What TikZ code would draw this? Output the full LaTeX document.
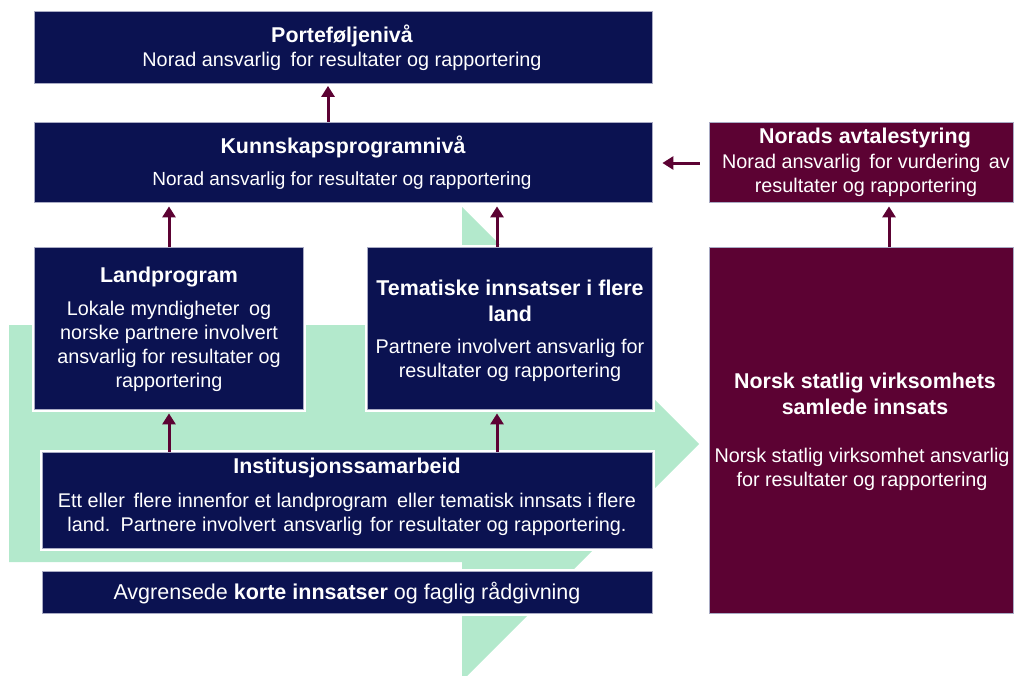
\documentclass[tikz,border=0pt]{standalone}
\usepackage{fontspec}
\setmainfont{Liberation Sans}
\usetikzlibrary{arrows.meta}
\definecolor{navy}{HTML}{0B1251}
\definecolor{plum}{HTML}{5C0233}
\definecolor{mint}{HTML}{B3E9CC}
\definecolor{edgec}{HTML}{A9ABC4}
\begin{document}
\begin{tikzpicture}[x=1pt,y=-1pt,
  box/.style={fill=navy, draw=edgec, line width=0.8pt,
    preaction={draw=white, line width=5pt}, inner sep=0pt},
  pbox/.style={box, fill=plum},
  ttl/.style={text=white, align=center, inner sep=0pt,
    font=\bfseries\fontsize{21.4}{26}\selectfont},
  txt/.style={text=white, align=center, inner sep=0pt,
    font=\fontsize{19.8}{24}\selectfont},
  small/.style={txt, font=\fontsize{19}{24}\selectfont},
  big/.style={txt, font=\fontsize{21.5}{26}\selectfont},
  arr/.style={draw=plum, line width=3pt, -{Triangle[width=13pt,length=11pt]}}]
\useasboundingbox (0,0) rectangle (1014,675);
\clip (0,0) rectangle (1014,675);
% green background arrow
\fill[mint] (9,325) -- (462,325) -- (462,207) -- (699,444) -- (462,681)
  -- (462,562) -- (9,562) -- cycle;
% boxes
\node[box, minimum width=618pt, minimum height=72pt] (port) at (343,47) {};
\node[box, minimum width=618pt, minimum height=80pt] (kunn) at (343,162) {};
\node[pbox, minimum width=304pt, minimum height=80pt] (avt) at (861,162) {};
\node[box, minimum width=269pt, minimum height=162pt] (land) at (168.5,328) {};
\node[box, minimum width=285pt, minimum height=162pt] (tema) at (509.5,328) {};
\node[box, minimum width=610pt, minimum height=96pt] (inst) at (347,500) {};
\node[box, minimum width=610pt, minimum height=42pt] (kort) at (347,592) {};
\node[pbox, minimum width=304pt, minimum height=366pt] (norsk) at (861,430) {};
% texts
\node[ttl] (portT) at (342,36) {Porteføljenivå};
\node[txt] (portB) at (342,61) {Norad ansvarlig\hspace{4pt} for resultater og rapportering};
\node[ttl] (kunnT) at (343,147) {Kunnskapsprogramnivå};
\node[small] (kunnB) at (342,181) {Norad ansvarlig for resultater og rapportering};
\node[ttl] (avtT) at (865,138) {Norads avtalestyring};
\node[txt] (avtB) at (866,175) {Norad ansvarlig\hspace{3pt} for vurdering\hspace{3pt} av\\resultater og rapportering};
\node[ttl] (landT) at (169,277) {Landprogram};
\node[txt] (landB) at (169,346.5) {Lokale myndigheter\hspace{4pt} og\\norske partnere involvert\\ansvarlig for resultater og\\rapportering};
\node[ttl] (temaT) at (510,301) {Tematiske innsatser i flere\\land};
\node[txt] (temaB) at (510,360) {Partnere involvert ansvarlig for\\resultater og rapportering};
\node[ttl] (norskT) at (865,394) {Norsk statlig virksomhets\\samlede innsats};
\node[txt] (norskB) at (862,469) {Norsk statlig virksomhet ansvarlig\\for resultater og rapportering};
\node[ttl] (instT) at (347,468) {Institusjonssamarbeid};
\node[txt] (instB) at (347,514) {Ett eller\hspace{3pt} flere innenfor et landprogram\hspace{4pt} eller tematisk innsats i flere\\land.\hspace{3pt} Partnere involvert\hspace{2pt} ansvarlig\hspace{2pt} for resultater og rapportering.};
\node[big] (kortT) at (347,593) {Avgrensede \textbf{korte innsatser} og faglig rådgivning};
% helper coordinates
\coordinate (xa) at (328,0);
\coordinate (xb) at (169,0);
\coordinate (xc) at (497,0);
\coordinate (xd) at (889,0);
\coordinate (ya) at (0,163);
% arrows
\draw[arr, shorten >=2.5pt] (kunn.north -| xa) -- (port.south -| xa);
\draw[arr, shorten >=4pt] (land.north -| xb) -- (kunn.south -| xb);
\draw[arr, shorten >=4pt] (tema.north -| xc) -- (kunn.south -| xc);
\draw[arr, shorten >=4pt] (inst.north -| xb) -- (land.south -| xb);
\draw[arr, shorten >=4pt] (inst.north -| xc) -- (tema.south -| xc);
\draw[arr, shorten >=4pt] (norsk.north -| xd) -- (avt.south -| xd);
\draw[arr, shorten <=9pt, shorten >=10pt] (avt.west |- ya) -- (kunn.east |- ya);
\end{tikzpicture}
\end{document}
